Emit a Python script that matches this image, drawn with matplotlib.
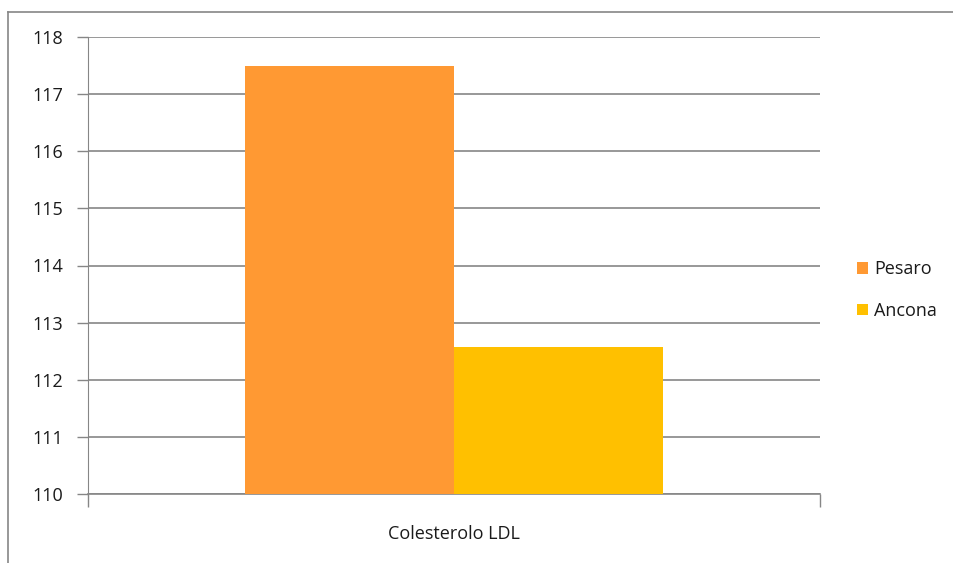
import matplotlib
matplotlib.use("Agg")
import matplotlib.pyplot as plt
from matplotlib.patches import Patch
from matplotlib.lines import Line2D

categories = ["Colesterolo LDL"]
series_names = ["Pesaro", "Ancona"]
values = [117.5, 112.58]
colors = ["#FF9933", "#FFC000"]
yticks = [110, 111, 112, 113, 114, 115, 116, 117, 118]

plt.rcParams['font.family'] = ['Open Sans', 'DejaVu Sans']
grid_c = "#868686"
txt_c = "#1a1a1a"
fs = 13

fig = plt.figure(figsize=(9.54, 5.63), dpi=100)
ax = fig.add_axes([88/954, 1-494/563, (820-88)/954, (494-37)/563])

w = 0.285
offsets = [-w/2, w/2]
for name, v, c, o in zip(series_names, values, colors, offsets):
    ax.bar(0 + o, v - 110, width=w, bottom=110, color=c, label=name, zorder=3)

ax.set_xlim(-0.5, 0.5)
ax.set_ylim(110, 118)
ax.set_yticks(yticks)
ax.set_yticklabels([str(t) for t in yticks], fontsize=fs, color=txt_c)
ax.yaxis.grid(True, color=grid_c, linewidth=1.2, zorder=0)
ax.set_axisbelow(True)
ax.tick_params(axis='y', length=8, width=1, color=grid_c, pad=10)

ax.set_xticks([0])
ax.set_xticklabels(categories, fontsize=fs, color=txt_c)
ax.set_xticks([-0.5, 0.5], minor=True)
ax.tick_params(axis='x', which='major', length=0, pad=22)
ax.tick_params(axis='x', which='minor', length=9, width=1, color=grid_c)

for s in ['top', 'right']:
    ax.spines[s].set_visible(False)
ax.spines['left'].set_color(grid_c)
ax.spines['bottom'].set_color(grid_c)
ax.spines['bottom'].set_linewidth(1.2)

# outer chart border
fig.add_artist(Line2D([8.5/954, 8.5/954], [0, 1-12/563], transform=fig.transFigure, color=grid_c, lw=1.2))
fig.add_artist(Line2D([8.5/954, 1], [1-12/563, 1-12/563], transform=fig.transFigure, color=grid_c, lw=1.2))

handles = [Patch(facecolor=c, edgecolor='none') for c in colors]
fig.legend(handles, series_names, loc='center left', bbox_to_anchor=(848/954, 1-290/563),
           frameon=False, fontsize=fs, handlelength=0.6, handleheight=0.6,
           handletextpad=0.35, labelspacing=1.3, labelcolor=txt_c, borderpad=0)

fig.savefig("out.png", dpi=100)
